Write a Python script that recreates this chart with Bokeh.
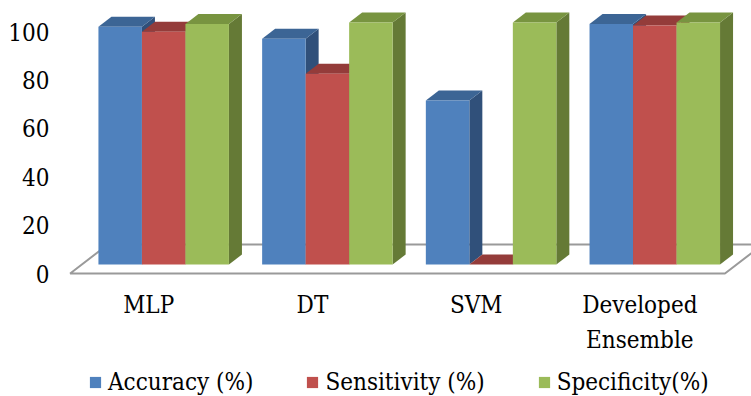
from bokeh.plotting import figure
from bokeh.models import Range1d, FixedTicker, Legend, LegendItem, ColumnDataSource
from bokeh.embed import file_html
from bokeh.resources import INLINE
from bokeh.core.properties import value

# ---- data -------------------------------------------------------------
categories = ["MLP", "DT", "SVM", "Developed\nEnsemble"]
series_names = ["Accuracy (%)", "Sensitivity (%)", "Specificity(%)"]
accuracy = [98.2, 93.3, 67.8, 99.4]
sensitivity = [96.2, 78.8, 0.0, 98.8]
specificity = [99.4, 100.0, 100.0, 100.0]
y_ticks = [0, 20, 40, 60, 80, 100]

# ---- layout / style ---------------------------------------------------
W, H = 751, 396
FRAME_LEFT = 58
PX_PER_CAT = 163.7          # horizontal pixels per category
PX_PER_UNIT = 2.42          # vertical pixels per value unit
ORIGIN_X = 151.5            # screen x of first category on the floor's front edge
ORIGIN_Y = 273              # screen y of value 0 on the floor's front edge

FONT = "DejaVu Serif Condensed"
FONT_SIZE = "24px"

# oblique projection of the floor depth (pixels -> data units)
DEPTH_DX = 37.7 / PX_PER_CAT
DEPTH_DY = 29.0 / PX_PER_UNIT
BAR_FRONT = 0.31            # bar front plane, as fraction of floor depth
BAR_BACK = 0.655            # bar back plane
BAR_W = 43.5 / PX_PER_CAT

colors = [
    # front, top, side
    ("#4F81BD", "#3C6595", "#30507A"),
    ("#C0504D", "#943C3A", "#7E3331"),
    ("#9BBB59", "#789440", "#657A36"),
]

x_range = Range1d((FRAME_LEFT - ORIGIN_X) / PX_PER_CAT, (W - ORIGIN_X) / PX_PER_CAT)
y_range = Range1d((ORIGIN_Y - H) / PX_PER_UNIT, ORIGIN_Y / PX_PER_UNIT)

p = figure(width=W, height=H, x_range=x_range, y_range=y_range,
           output_backend="svg", toolbar_location=None,
           x_axis_location=None, y_axis_location="left",
           min_border_left=FRAME_LEFT, min_border_right=0,
           min_border_top=0, min_border_bottom=0)
p.outline_line_color = None
p.grid.visible = False
p.background_fill_color = "white"
p.border_fill_color = "white"

# y axis: labels only
ax = p.yaxis[0]
ax.ticker = FixedTicker(ticks=y_ticks)
ax.axis_line_color = None
ax.major_tick_line_color = None
ax.major_tick_out = 0
ax.minor_tick_line_color = None
ax.minor_tick_out = 0
ax.major_label_standoff = 9
ax.major_label_text_font = FONT
ax.major_label_text_font_size = FONT_SIZE
ax.major_label_text_color = "black"

# floor
n = len(categories)
fx0, fx1 = -0.5, n - 0.5
p.patch(x=[fx0, fx1, fx1 + DEPTH_DX, fx0 + DEPTH_DX],
        y=[0, 0, DEPTH_DY, DEPTH_DY],
        fill_color="white", line_color="#9a9a9a", line_width=2)

# bars: build faces for each series
series = [accuracy, sensitivity, specificity]
fdx, fdy = BAR_FRONT * DEPTH_DX, BAR_FRONT * DEPTH_DY
bdx = (BAR_BACK - BAR_FRONT) * DEPTH_DX
bdy = (BAR_BACK - BAR_FRONT) * DEPTH_DY

fronts, tops, sides = [], [], []
for i, vals in enumerate(series):
    left = [k + (i - 1.5) * BAR_W + fdx for k in range(n)]
    right = [l + BAR_W for l in left]
    bottom = [fdy] * n
    top = [fdy + v for v in vals]
    fronts.append(ColumnDataSource(dict(left=left, right=right, bottom=bottom, top=top)))
    tops.append(ColumnDataSource(dict(
        xs=[[l, r, r + bdx, l + bdx] for l, r in zip(left, right)],
        ys=[[t, t, t + bdy, t + bdy] for t in top])))
    sides.append(ColumnDataSource(dict(
        xs=[[r, r + bdx, r + bdx, r] for r in right],
        ys=[[b, b + bdy, t + bdy, t] for b, t in zip(bottom, top)])))

for i in range(3):
    p.patches("xs", "ys", source=sides[i], fill_color=colors[i][2], line_color=None)
for i in range(3):
    p.patches("xs", "ys", source=tops[i], fill_color=colors[i][1], line_color=None)
front_renderers = []
for i in range(3):
    r = p.quad(left="left", right="right", bottom="bottom", top="top", source=fronts[i],
               fill_color=colors[i][0], line_color=None)
    front_renderers.append(r)

# category labels along the floor's front edge
LABEL_Y = (ORIGIN_Y - 290) / PX_PER_UNIT
p.text(x=[k - 0.02 for k in range(n)], y=[LABEL_Y] * n, text=categories,
       text_align="center", text_baseline="top",
       text_font=value(FONT), text_font_size=FONT_SIZE, text_color="black",
       text_line_height=1.28)

legend = Legend(items=[LegendItem(label=s, renderers=[r]) for s, r in zip(series_names, front_renderers)],
                orientation="horizontal", location=(30, 0),
                glyph_width=14, glyph_height=14, label_standoff=6, spacing=52,
                padding=0, margin=0, border_line_color=None, background_fill_alpha=0,
                label_text_font=FONT, label_text_font_size=FONT_SIZE, label_text_color="black")
p.add_layout(legend)

open("out.html", "w").write(file_html(p, INLINE))
